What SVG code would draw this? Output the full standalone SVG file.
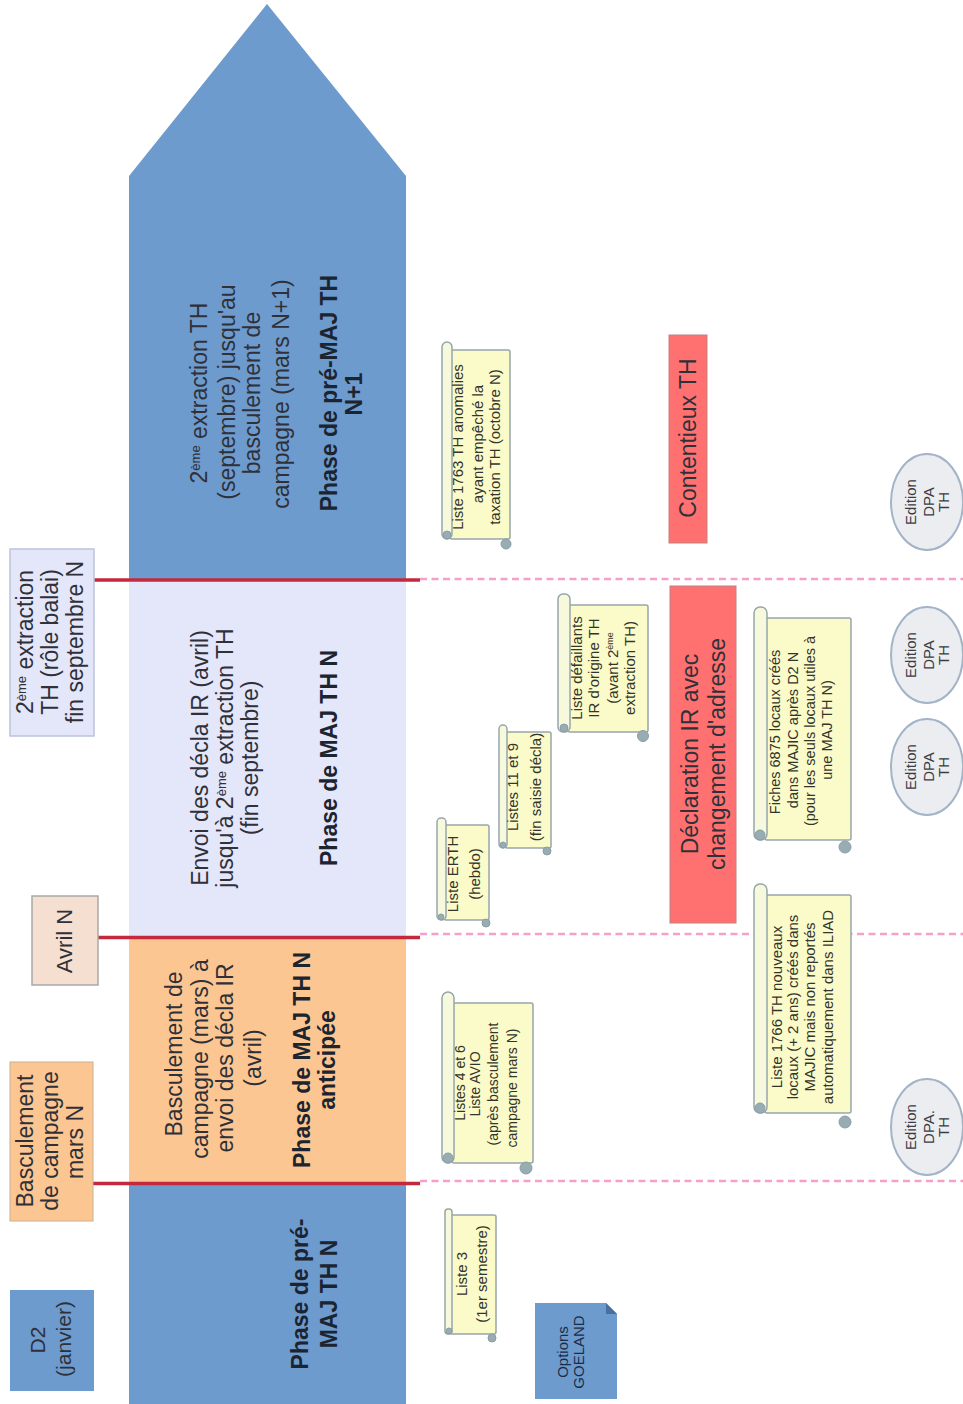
<svg xmlns="http://www.w3.org/2000/svg" width="963" height="1404" viewBox="0 0 963 1404">
<style>
text{font-family:"Liberation Sans",Arial,sans-serif;fill:#2f3038;text-anchor:middle}
.b{font-size:23px}
.h{font-size:23px;font-weight:bold;fill:#1c2430}
.s{font-size:15px;fill:#33352c}
.e{font-size:15px;fill:#3a3c44}
.red{stroke:#c4283c;stroke-width:3.500;fill:none}
.dash{stroke:#f5a0c8;stroke-width:2.500;stroke-dasharray:7 4.500;fill:none}
.body{fill:#fbfbc9;stroke:#97a6aa;stroke-width:1.500}
.band{fill:#f6f9dc;stroke:#97a6aa;stroke-width:1.500}
.curl{fill:#98acb3;stroke:#8a9ea6;stroke-width:1}
.ell{fill:#ecedf0;stroke:#a3b3c8;stroke-width:2}
</style>
<rect width="963" height="1404" fill="#fff"/>
<g id="phase-pre-maj-n1">
<polygon points="267,4 406,176 406,580 129,580 129,176" fill="#6d9bce"/>
<text class="b" transform="translate(207,393) rotate(-90)">2<tspan font-size="13" baseline-shift="super">ème</tspan> extraction TH</text>
<text class="b" transform="translate(235,392) rotate(-90)">(septembre) jusqu'au</text>
<text class="b" transform="translate(260,393) rotate(-90)">basculement de</text>
<text class="b" transform="translate(289,394) rotate(-90)">campagne (mars N+1)</text>
<text class="h" transform="translate(337,393) rotate(-90)">Phase de pré-MAJ TH</text>
<text class="h" transform="translate(362,394) rotate(-90)">N+1</text>
</g>
<g id="phase-maj-n">
<rect x="129" y="580" width="277" height="356" fill="#e4e6fa"/>
<text class="b" transform="translate(208,758) rotate(-90)">Envoi des décla IR (avril)</text>
<text class="b" transform="translate(233,758) rotate(-90)">jusqu'à 2<tspan font-size="13" baseline-shift="super">ème</tspan> extraction TH</text>
<text class="b" transform="translate(258,758) rotate(-90)">(fin septembre)</text>
<text class="h" transform="translate(337,758) rotate(-90)">Phase de MAJ TH N</text>
</g>
<g id="phase-maj-anticipee">
<rect x="129" y="936" width="277" height="247" fill="#fcc692"/>
<text class="b" transform="translate(182,1054) rotate(-90)">Basculement de</text>
<text class="b" transform="translate(208,1059) rotate(-90)">campagne (mars) à</text>
<text class="b" transform="translate(233,1058) rotate(-90)">envoi des décla IR</text>
<text class="b" transform="translate(261,1058) rotate(-90)">(avril)</text>
<text class="h" transform="translate(310,1060) rotate(-90)">Phase de MAJ TH N</text>
<text class="h" transform="translate(335,1060) rotate(-90)">anticipée</text>
</g>
<g id="phase-pre-maj-n">
<rect x="129" y="1183" width="277" height="221" fill="#6d9bce"/>
<text class="h" transform="translate(308,1294) rotate(-90)">Phase de pré-</text>
<text class="h" transform="translate(337,1294) rotate(-90)">MAJ TH N</text>
</g>
<g id="connectors">
<path class="red" d="M93,580H420"/>
<path class="red" d="M97,937.500H420"/>
<path class="red" d="M93,1183.500H420"/>
<path class="dash" d="M420,579H963"/>
<path class="dash" d="M420,934H963"/>
<path class="dash" d="M420,1181H963"/>
</g>
<g id="date-2e-extraction">
<rect x="10" y="549" width="84" height="187" fill="#e4e7fa" stroke="#bcc4da" stroke-width="1.500"/>
<text class="b" transform="translate(33,642) rotate(-90)">2<tspan font-size="13" baseline-shift="super">ème</tspan> extraction</text>
<text class="b" transform="translate(58,642) rotate(-90)">TH (rôle balai)</text>
<text class="b" transform="translate(83,642) rotate(-90)">fin septembre N</text>
</g>
<g id="date-avril">
<rect x="32" y="896" width="66" height="89" fill="#f5dfd0" stroke="#a9a9a9" stroke-width="1.500"/>
<text class="b" style="font-size:22px" transform="translate(72,941) rotate(-90)">Avril N</text>
</g>
<g id="date-basculement">
<rect x="10" y="1062" width="83" height="159" fill="#fcc692" stroke="#c9b090" stroke-width="1"/>
<text class="b" transform="translate(33,1141) rotate(-90)">Basculement</text>
<text class="b" transform="translate(58,1141) rotate(-90)">de campagne</text>
<text class="b" transform="translate(83,1142) rotate(-90)">mars N</text>
</g>
<g id="date-d2">
<rect x="10" y="1290" width="84" height="101" fill="#6d9bce"/>
<text class="b" style="font-size:21px" transform="translate(45,1340) rotate(-90)">D2</text>
<text class="b" style="font-size:21px" transform="translate(71,1339) rotate(-90)">(janvier)</text>
</g>
<g id="contentieux">
<rect x="669" y="335" width="38" height="208" fill="#ff7070" stroke="#c08080"/>
<text class="b" transform="translate(696,438) rotate(-90)">Contentieux TH</text>
</g>
<g id="declaration">
<rect x="670" y="586" width="66" height="337" fill="#ff7070" stroke="#c08080"/>
<text class="b" transform="translate(698,754) rotate(-90)">Déclaration IR avec</text>
<text class="b" transform="translate(725,754) rotate(-90)">changement d'adresse</text>
</g>
<g id="scroll-1763">
<rect class="body" x="450" y="350" width="60" height="189" rx="2"/><rect class="band" x="442" y="342" width="10" height="197" rx="5"/><circle class="curl" cx="447" cy="535" r="4"/><circle class="curl" cx="506" cy="544" r="5"/>
<text class="s" transform="translate(463,447) rotate(-90)">Liste 1763 TH anomalies</text>
<text class="s" transform="translate(483,444) rotate(-90)">ayant empêché la</text>
<text class="s" transform="translate(500,447) rotate(-90)">taxation TH (octobre N)</text>
</g>
<g id="scroll-defaillants">
<rect class="body" x="568" y="605" width="80" height="127" rx="2"/><rect class="band" x="558" y="594" width="12" height="138" rx="5"/><circle class="curl" cx="564" cy="728" r="4"/><circle class="curl" cx="643" cy="736" r="5.500"/>
<text class="s" transform="translate(582,668) rotate(-90)">Liste défaillants</text>
<text class="s" transform="translate(599,668) rotate(-90)">IR d'origine TH</text>
<text class="s" transform="translate(618,668) rotate(-90)">(avant 2<tspan font-size="9" baseline-shift="super">ème</tspan></text>
<text class="s" transform="translate(635,668) rotate(-90)">extraction TH)</text>
</g>
<g id="scroll-11-9">
<rect class="body" x="505" y="732" width="46" height="116" rx="2"/><rect class="band" x="499" y="725" width="8" height="123" rx="4"/><circle class="curl" cx="503" cy="845" r="3"/><circle class="curl" cx="547" cy="851" r="4"/>
<text class="s" transform="translate(518,787) rotate(-90)">Listes 11 et 9</text>
<text class="s" transform="translate(541,787) rotate(-90)">(fin saisie décla)</text>
</g>
<g id="scroll-erth">
<rect class="body" x="444" y="825" width="45" height="95" rx="2"/><rect class="band" x="437" y="818" width="9" height="102" rx="4"/><circle class="curl" cx="441" cy="917" r="3"/><circle class="curl" cx="486" cy="923" r="4"/>
<text class="s" transform="translate(458,874) rotate(-90)">Liste ERTH</text>
<text class="s" transform="translate(480,874) rotate(-90)">(hebdo)</text>
</g>
<g id="scroll-6875">
<rect class="body" x="765" y="618" width="86" height="222" rx="2"/><rect class="band" x="754" y="607" width="13" height="233" rx="6"/><circle class="curl" cx="760" cy="835" r="5"/><circle class="curl" cx="845" cy="847" r="6"/>
<text class="s" style="font-size:14.500px" transform="translate(780,732) rotate(-90)">Fiches 6875 locaux créés</text>
<text class="s" style="font-size:14.500px" transform="translate(798,730) rotate(-90)">dans MAJIC après D2 N</text>
<text class="s" style="font-size:14.500px" transform="translate(815,731) rotate(-90)">(pour les seuls locaux utiles à</text>
<text class="s" style="font-size:14.500px" transform="translate(832,730) rotate(-90)">une MAJ TH N)</text>
</g>
<g id="scroll-1766">
<rect class="body" x="765" y="895" width="86" height="218" rx="2"/><rect class="band" x="754" y="884" width="13" height="229" rx="6"/><circle class="curl" cx="760" cy="1108" r="5"/><circle class="curl" cx="845" cy="1122" r="6"/>
<text class="s" transform="translate(782,1007) rotate(-90)">Liste 1766 TH nouveaux</text>
<text class="s" transform="translate(798,1007) rotate(-90)">locaux (+ 2 ans) créés dans</text>
<text class="s" transform="translate(815,1007) rotate(-90)">MAJIC mais non reportés</text>
<text class="s" transform="translate(833,1007) rotate(-90)">automatiquement dans ILIAD</text>
</g>
<g id="scroll-4-6">
<rect class="body" x="452" y="1003" width="81" height="160" rx="2"/><rect class="band" x="442" y="992" width="12" height="171" rx="6"/><circle class="curl" cx="448" cy="1158" r="5"/><circle class="curl" cx="526" cy="1168" r="6"/>
<text class="s" style="font-size:14px" transform="translate(465,1083) rotate(-90)">Listes 4 et 6</text>
<text class="s" style="font-size:14px" transform="translate(480,1084) rotate(-90)">Liste AVIO</text>
<text class="s" style="font-size:14px" transform="translate(498,1084) rotate(-90)">(après basculement</text>
<text class="s" style="font-size:14px" transform="translate(517,1088) rotate(-90)">campagne mars N)</text>
</g>
<g id="scroll-3">
<rect class="body" x="450" y="1215" width="46" height="119" rx="2"/><rect class="band" x="445" y="1209" width="7" height="125" rx="3"/><circle class="curl" cx="449" cy="1331" r="3"/><circle class="curl" cx="492" cy="1338" r="4"/>
<text class="s" transform="translate(467,1274) rotate(-90)">Liste 3</text>
<text class="s" transform="translate(487,1274) rotate(-90)">(1er semestre)</text>
</g>
<g id="options-goeland">
<polygon points="535,1303 606,1303 617,1314 617,1399 535,1399" fill="#6d9bce"/>
<polygon points="606,1303 617,1314 606,1314" fill="#4a6f9e"/>
<text class="s" style="fill:#1c2c48" transform="translate(568,1352) rotate(-90)">Options</text>
<text class="s" style="fill:#1c2c48" transform="translate(584,1352) rotate(-90)">GOELAND</text>
</g>
<g id="edition-1">
<ellipse class="ell" cx="927" cy="502" rx="36" ry="48"/>
<text class="e" transform="translate(916,502) rotate(-90)">Edition</text><text class="e" transform="translate(934,502) rotate(-90)">DPA</text><text class="e" transform="translate(949,502) rotate(-90)">TH</text>
</g>
<g id="edition-2">
<ellipse class="ell" cx="927" cy="655" rx="36" ry="48"/>
<text class="e" transform="translate(916,655) rotate(-90)">Edition</text><text class="e" transform="translate(934,655) rotate(-90)">DPA</text><text class="e" transform="translate(949,655) rotate(-90)">TH</text>
</g>
<g id="edition-3">
<ellipse class="ell" cx="927" cy="767" rx="36" ry="48"/>
<text class="e" transform="translate(916,767) rotate(-90)">Edition</text><text class="e" transform="translate(934,767) rotate(-90)">DPA</text><text class="e" transform="translate(949,767) rotate(-90)">TH</text>
</g>
<g id="edition-4">
<ellipse class="ell" cx="927" cy="1127" rx="36" ry="48"/>
<text class="e" transform="translate(916,1127) rotate(-90)">Edition</text><text class="e" transform="translate(934,1127) rotate(-90)">DPA.</text><text class="e" transform="translate(949,1127) rotate(-90)">TH</text>
</g>
</svg>
